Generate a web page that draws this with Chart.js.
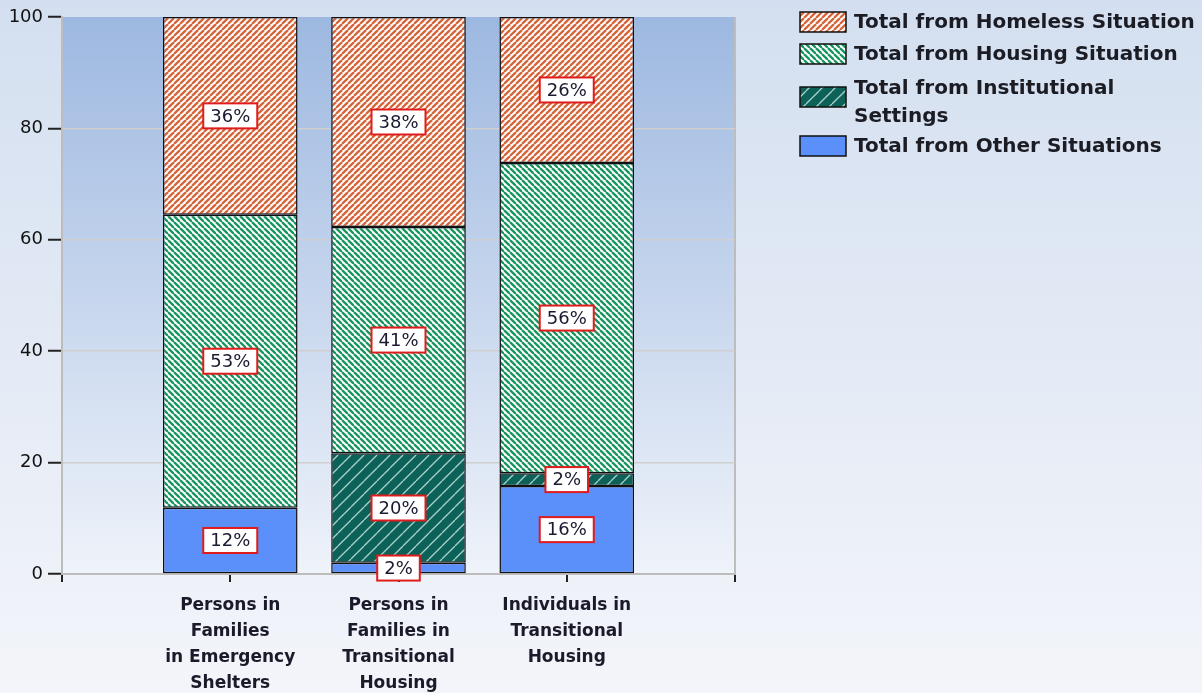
<!DOCTYPE html>
<html>
<head>
<meta charset="utf-8">
<script src="https://cdn.jsdelivr.net/npm/chart.js@4.4.1/dist/chart.umd.min.js"></script>
<style>
html, body { margin: 0; padding: 0; background: #e6edf7; }
</style>
</head>
<body>
<canvas id="chart" width="1202" height="693"></canvas>
<script>
// categories (x labels, already broken into lines)
const categories = [
    ["Persons in", "Families", "in Emergency", "Shelters"],
    ["Persons in", "Families in", "Transitional", "Housing"],
    ["Individuals in", "Transitional", "Housing"]
];
const seriesNames = [
    "Total from Other Situations",
    "Total from Institutional Settings",
    "Total from Housing Situation",
    "Total from Homeless Situation"
];
// percent values, bottom of the stack first
const otherSituations = [11.9, 2.0, 15.8];
const institutionalSettings = [0, 19.7, 2.3];
const housingSituation = [52.6, 40.6, 55.7];
const homelessSituation = [35.5, 37.7, 26.2];
const yTicks = [0, 20, 40, 60, 80, 100];

const FONT = "'DejaVu Sans', Verdana, sans-serif";
Chart.defaults.font.family = FONT;

// diagonal hatch fills
function hatch(bg, fg, size, lw, dir) {
    const c = document.createElement('canvas');
    c.width = size;
    c.height = size;
    const x = c.getContext('2d');
    x.fillStyle = bg;
    x.fillRect(0, 0, size, size);
    x.strokeStyle = fg;
    x.lineWidth = lw;
    for (let o = -size; o <= size; o += size) {
        x.beginPath();
        if (dir == '/') {
            x.moveTo(o, size);
            x.lineTo(o + size, 0);
        } else {
            x.moveTo(o, 0);
            x.lineTo(o + size, size);
        }
        x.stroke();
    }
    return x.createPattern(c, 'repeat');
}

const fills = [
    '#5b8ff9',
    hatch('#0c6158', '#a9d3ca', 13, 1.3, '/'),
    hatch('#ffffff', '#17965f', 6, 2.3, '\\'),
    hatch('#ffffff', '#d6653a', 6, 2.3, '/')
];

const pad = arr => [null, ...arr, null];
const seriesData = [otherSituations, institutionalSettings, housingSituation, homelessSituation];

const datasets = seriesData.map((d, i) => ({
    label: seriesNames[i],
    data: pad(d),
    backgroundColor: fills[i],
    borderColor: '#111',
    borderWidth: 1.5,
    borderSkipped: false,
    categoryPercentage: 0.8,
    barPercentage: 1
}));

const backgroundPlugin = {
    id: 'bg',
    beforeDraw(chart) {
        const ctx = chart.ctx;
        const a = chart.chartArea;
        let g = ctx.createLinearGradient(0, 0, 0, chart.height);
        g.addColorStop(0, '#d3dff0');
        g.addColorStop(1, '#f3f5fa');
        ctx.save();
        ctx.fillStyle = g;
        ctx.fillRect(0, 0, chart.width, chart.height);
        g = ctx.createLinearGradient(0, a.top, 0, a.bottom);
        g.addColorStop(0, '#9db8e0');
        g.addColorStop(1, '#eff3fa');
        ctx.fillStyle = g;
        ctx.fillRect(a.left, a.top, a.right - a.left, a.bottom - a.top);
        ctx.restore();
    }
};

const valueLabels = {
    id: 'valueLabels',
    afterDatasetsDraw(chart) {
        const ctx = chart.ctx;
        ctx.save();
        ctx.font = '18px ' + FONT;
        ctx.textAlign = 'center';
        ctx.textBaseline = 'middle';
        chart.data.datasets.forEach((ds, i) => {
            const meta = chart.getDatasetMeta(i);
            meta.data.forEach((el, j) => {
                const v = ds.data[j];
                if (!v) return;
                const txt = Math.round(v) + '%';
                const cy = (el.y + el.base) / 2;
                const w = ctx.measureText(txt).width + 14;
                const h = 25;
                ctx.fillStyle = '#fff';
                ctx.fillRect(el.x - w / 2, cy - h / 2, w, h);
                ctx.strokeStyle = '#e01b1b';
                ctx.lineWidth = 2;
                ctx.strokeRect(el.x - w / 2, cy - h / 2, w, h);
                ctx.fillStyle = '#1a1a30';
                ctx.fillText(txt, el.x, cy + 1);
            });
        });
        ctx.restore();
    }
};

const sideLegend = {
    id: 'sideLegend',
    afterDraw(chart) {
        const ctx = chart.ctx;
        ctx.save();
        ctx.font = 'bold 20px ' + FONT;
        ctx.textBaseline = 'middle';
        ctx.textAlign = 'left';
        let y = 23;
        const lineH = 28;
        const items = chart.data.datasets.slice().reverse();
        items.forEach(ds => {
            // simple word wrap
            const words = ds.label.split(' ');
            const lines = [];
            let cur = '';
            words.forEach(w => {
                const t = cur ? cur + ' ' + w : w;
                if (ctx.measureText(t).width > 346 && cur) {
                    lines.push(cur);
                    cur = w;
                } else cur = t;
            });
            lines.push(cur);
            const multi = lines.length > 1;
            if (multi) y += 2;
            const mid = multi ? y + 8 : y - 1;
            ctx.fillStyle = ds.backgroundColor;
            ctx.fillRect(800, mid - 10, 46, 20);
            ctx.strokeStyle = '#111';
            ctx.lineWidth = 1.5;
            ctx.strokeRect(800, mid - 10, 46, 20);
            ctx.fillStyle = '#1c1c24';
            lines.forEach((l, k) => ctx.fillText(l, 854, y + k * lineH));
            y += (lines.length - 1) * lineH + 32 - (multi ? 2 : 0);
        });
        ctx.restore();
    }
};

new Chart(document.getElementById('chart'), {
    type: 'bar',
    data: {
        labels: ['', ...categories, ''],
        datasets: datasets
    },
    plugins: [backgroundPlugin, valueLabels, sideLegend],
    options: {
        responsive: false,
        animation: false,
        devicePixelRatio: 1,
        layout: {
            padding: { top: 17, right: 467, bottom: 0, left: 0 }
        },
        plugins: {
            legend: { display: false },
            tooltip: { enabled: false }
        },
        scales: {
            x: {
                stacked: true,
                offset: false,
                grid: {
                    offset: false,
                    drawOnChartArea: true,
                    color: c => c.index === 4 ? '#bdbdbd' : 'rgba(0,0,0,0)',
                    lineWidth: 2,
                    tickColor: '#222',
                    tickLength: 8,
                    tickWidth: 2
                },
                border: { color: '#bdbdbd', width: 2 },
                ticks: {
                    font: { size: 17, weight: 'bold', lineHeight: 1.53 },
                    color: '#1a1a2a',
                    maxRotation: 0,
                    autoSkip: false,
                    padding: 11
                },
                afterFit: s => { s.height = 119; }
            },
            y: {
                stacked: true,
                min: 0,
                max: 100,
                afterBuildTicks: s => { s.ticks = yTicks.map(v => ({ value: v })); },
                grid: {
                    color: c => (c.tick.value === 0 || c.tick.value === 100) ? 'rgba(0,0,0,0)' : '#cfcfcf',
                    lineWidth: 1.5,
                    tickColor: '#222',
                    tickLength: 14,
                    tickWidth: 2
                },
                border: { color: '#bdbdbd', width: 2 },
                ticks: {
                    font: { size: 18 },
                    color: '#111',
                    padding: 5
                },
                afterFit: s => { s.width = 62; }
            }
        }
    }
});
</script>
</body>
</html>
